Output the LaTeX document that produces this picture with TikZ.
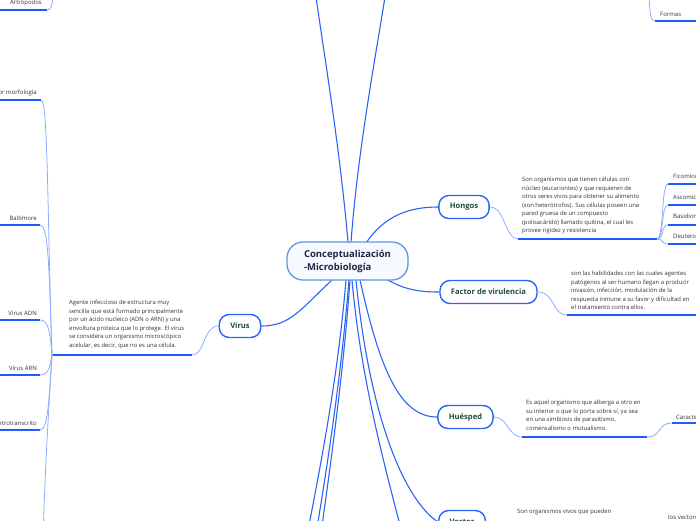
\documentclass[tikz,border=0pt]{standalone}
\usepackage{fontspec}
\setmainfont{Open Sans}
\usetikzlibrary{calc}
\definecolor{mainblue}{HTML}{2B63F6}
\definecolor{underblue}{HTML}{1F5BFF}
\definecolor{lightblue}{HTML}{8AAEFF}
\definecolor{nodetext}{HTML}{1D4B40}
\definecolor{navy}{HTML}{1B2747}
\definecolor{desctext}{HTML}{333333}
\definecolor{cborder}{HTML}{5A98E6}
\definecolor{cfill}{HTML}{F7FAFE}
\pgfdeclarelayer{bg}
\pgfsetlayers{bg,main}
\begin{document}
\begin{tikzpicture}[x=1pt,y=-1pt,
  conn/.style={draw=mainblue,line width=1.1pt},
  subconn/.style={draw=lightblue,line width=0.8pt},
  uline/.style={draw=underblue,line width=1.8pt},
  topic/.style={draw=mainblue,line width=1.4pt,fill=white,rounded corners=10pt,
    minimum height=23pt,inner xsep=11pt,font=\fontsize{7.6}{9}\selectfont\bfseries,text=nodetext},
  centerbox/.style={draw=cborder,line width=1.3pt,fill=cfill,rounded corners=16pt,
    minimum width=121pt,minimum height=38pt,align=left,
    font=\fontsize{9.5}{13}\selectfont\bfseries,text=navy},
  desc/.style={font=\fontsize{5.9}{8.5}\selectfont,text=desctext,align=left,inner sep=0pt,anchor=north west},
  lab/.style={font=\fontsize{6}{7}\selectfont,text=desctext,inner sep=0pt}
]
\useasboundingbox (0,0) rectangle (696,520);
\clip (0,0) rectangle (696,520);

% main nodes
\node[centerbox] (c) at (347.5,261) {Conceptualización\\-Microbiología};
\node[topic] (hongos) at (464,207) {Hongos};
\node[topic] (factor) at (488.5,292) {Factor de virulencia};
\node[topic] (huesped) at (465.5,417) {Huésped};
\node[topic] (virus) at (240,326) {Virus};
\node[topic] (vector) at (462,522) {Vector};

% descriptions
\node[desc] (hongostxt) at (522,177) {Son organismos que tienen células con\\núcleo (eucariontes) y que requieren de\\otros seres vivos para obtener su alimento\\(son heterótrofos). Sus células poseen una\\pared gruesa de un compuesto\\(polisacárido) llamado quitina, el cual les\\provee rigidez y resistencia};
\node[desc] (factortxt) at (571,271) {son las habilidades con las cuales agentes\\patógenos al ser humano llegan a producir\\invasión, infección, modulación de la\\respuesta inmune a su favor y dificultad en\\el tratamiento contra ellos.};
\node[desc] (huespedtxt) at (526,400) {Es aquel organismo que alberga a otro en\\su interior o que lo porta sobre sí, ya sea\\en una simbiosis de parasitismo,\\comensalismo o mutualismo.};
\node[desc] (virustxt) at (69,300) {Agente infeccioso de estructura muy\\sencilla que está formado principalmente\\por un ácido nucleico (ADN o ARN) y una\\envoltura proteica que lo protege. El virus\\se considera un organismo microscópico\\acelular, es decir, que no es una célula.};
\node[desc] (vectortxt) at (517,509) {Son organismos vivos que pueden};

% small labels
\node[lab,anchor=east] (artro) at (42,3) {Artrópodos};
\node[lab,anchor=east] (morfo) at (37,93) {por morfología};
\node[lab,anchor=east] (balti) at (37,218) {Baltimore};
\node[lab,anchor=east] (vadn) at (37,313) {Virus ADN};
\node[lab,anchor=east] (varn) at (37,368) {Virus ARN};
\node[lab,anchor=east] (retro) at (37,423) {Retrotranscrito};
\node[lab,anchor=west] (formas) at (660,14) {Formas};
\node[lab,anchor=west] (ficom) at (673,176) {Ficomicetos};
\node[lab,anchor=west] (ascom) at (673,197) {Ascomicetos};
\node[lab,anchor=west] (basid) at (673,216) {Basidiomicetos};
\node[lab,anchor=west] (deut) at (673,236) {Deuteromicetos};
\node[lab,anchor=west] (caract) at (676,417) {Características};
\node[lab,anchor=west] (losvec) at (668,517) {los vectores};

% coordinates
\coordinate (ctl) at (348,242);
\coordinate (ctr) at (351,242);
\coordinate (chg) at (366,243);
\coordinate (cfv) at (386,279);
\coordinate (cvi) at (332,280);
\coordinate (chu) at (360,280);
\coordinate (cve) at (356,280);
\coordinate (cdn) at (352,280);
\coordinate (cd1) at (346,280);
\coordinate (cd2) at (349,280);
\coordinate (cd3) at (350,280);
\coordinate (outtl) at (316,-3);
\coordinate (outtr) at (385,-3);
\coordinate (outd) at (404,540);
\coordinate (outd1) at (306,540);
\coordinate (outd2) at (315,540);
\coordinate (outd3) at (320,540);

\coordinate (hu0) at (518,239);
\coordinate (hu1) at (657,239);
\coordinate (fu0) at (567,315);
\coordinate (fu1) at (700,315);
\coordinate (su0) at (522,437);
\coordinate (su1) at (647,437);
\coordinate (cu0) at (672,423);
\coordinate (cu1) at (700,423);
\coordinate (vj) at (52,355);
\coordinate (vu) at (192,355);
\coordinate (mo1) at (41,100);
\coordinate (ba1) at (40,225);
\coordinate (ad1) at (40,320);
\coordinate (ar1) at (40,375);
\coordinate (re1) at (40,430);
\coordinate (vjdown) at (43,540);
\coordinate (ar0) at (47,10);
\coordinate (arup) at (53,-4);
\coordinate (fo0) at (655,21);
\coordinate (foup) at (649,-4);
\coordinate (fi0) at (668,184);
\coordinate (as0) at (668,205);
\coordinate (bs0) at (668,225);
\coordinate (de0) at (668,244);

\begin{pgfonlayer}{bg}
% connectors from the central node
\draw[conn] (ctl) .. controls (340,150) and (325,60) .. (outtl);
\draw[conn] (ctr) .. controls (358,150) and (375,60) .. (outtr);
\draw[conn] (chg) .. controls (385,215) and (410,207) .. (hongos.west);
\draw[conn] (cfv) .. controls (405,290) and (420,292) .. (factor.west);
\draw[conn] (cvi) .. controls (300,310) and (290,326) .. (virus.east);
\draw[conn] (chu) .. controls (380,370) and (400,417) .. (huesped.west);
\draw[conn] (cve) .. controls (370,420) and (405,500) .. (vector.west);
\draw[conn] (cdn) .. controls (360,370) and (380,450) .. (outd);
\draw[conn] (cd1) .. controls (340,350) and (330,420) .. (outd1);
\draw[conn] (cd2) .. controls (343,350) and (335,420) .. (outd2);
\draw[conn] (cd3) .. controls (345,350) and (337,420) .. (outd3);

% topic to description
\draw[subconn] (hongos.east) .. controls (505,207) and (505,239) .. (hu0);
\draw[uline] (hu0) -- (hu1);
\draw[subconn] (factor.east) .. controls (555,292) and (552,315) .. (fu0);
\draw[uline] (fu0) -- (fu1);
\draw[subconn] (huesped.east) .. controls (508,417) and (508,437) .. (su0);
\draw[uline] (su0) -- (su1);
\draw[subconn] (su1) .. controls (662,437) and (657,423) .. (cu0);
\draw[uline] (cu0) -- (cu1);
\draw[subconn] (virus.west) .. controls (203,326) and (205,355) .. (vu);
\draw[uline] (vj) -- (vu);

% hongos children
\draw[subconn] (hu1) .. controls (664,239) and (661,184) .. (fi0);
\draw[subconn] (hu1) .. controls (664,239) and (661,205) .. (as0);
\draw[subconn] (hu1) .. controls (664,239) and (661,225) .. (bs0);
\draw[subconn] (hu1) .. controls (664,239) and (661,244) .. (de0);
\draw[uline] (fi0) -- (700,184);
\draw[uline] (as0) -- (700,205);
\draw[uline] (bs0) -- (700,225);
\draw[uline] (de0) -- (700,244);

% virus children
\draw[subconn] (vj) .. controls (47,200) and (48,100) .. (mo1);
\draw[subconn] (vj) .. controls (49,260) and (48,225) .. (ba1);
\draw[subconn] (vj) .. controls (50,330) and (48,320) .. (ad1);
\draw[subconn] (vj) .. controls (50,368) and (48,375) .. (ar1);
\draw[subconn] (vj) .. controls (49,400) and (48,430) .. (re1);
\draw[subconn] (vj) .. controls (48,420) and (45,470) .. (vjdown);
\draw[uline] (-2,100) -- (mo1);
\draw[uline] (-2,225) -- (ba1);
\draw[uline] (-2,320) -- (ad1);
\draw[uline] (-2,375) -- (ar1);
\draw[uline] (-2,430) -- (re1);

% top corners
\draw[uline] (-2,10) -- (ar0);
\draw[subconn] (ar0) .. controls (51,10) and (52,6) .. (arup);
\draw[uline] (fo0) -- (700,21);
\draw[subconn] (fo0) .. controls (650,21) and (650,12) .. (foup);
\end{pgfonlayer}
\end{tikzpicture}
\end{document}
